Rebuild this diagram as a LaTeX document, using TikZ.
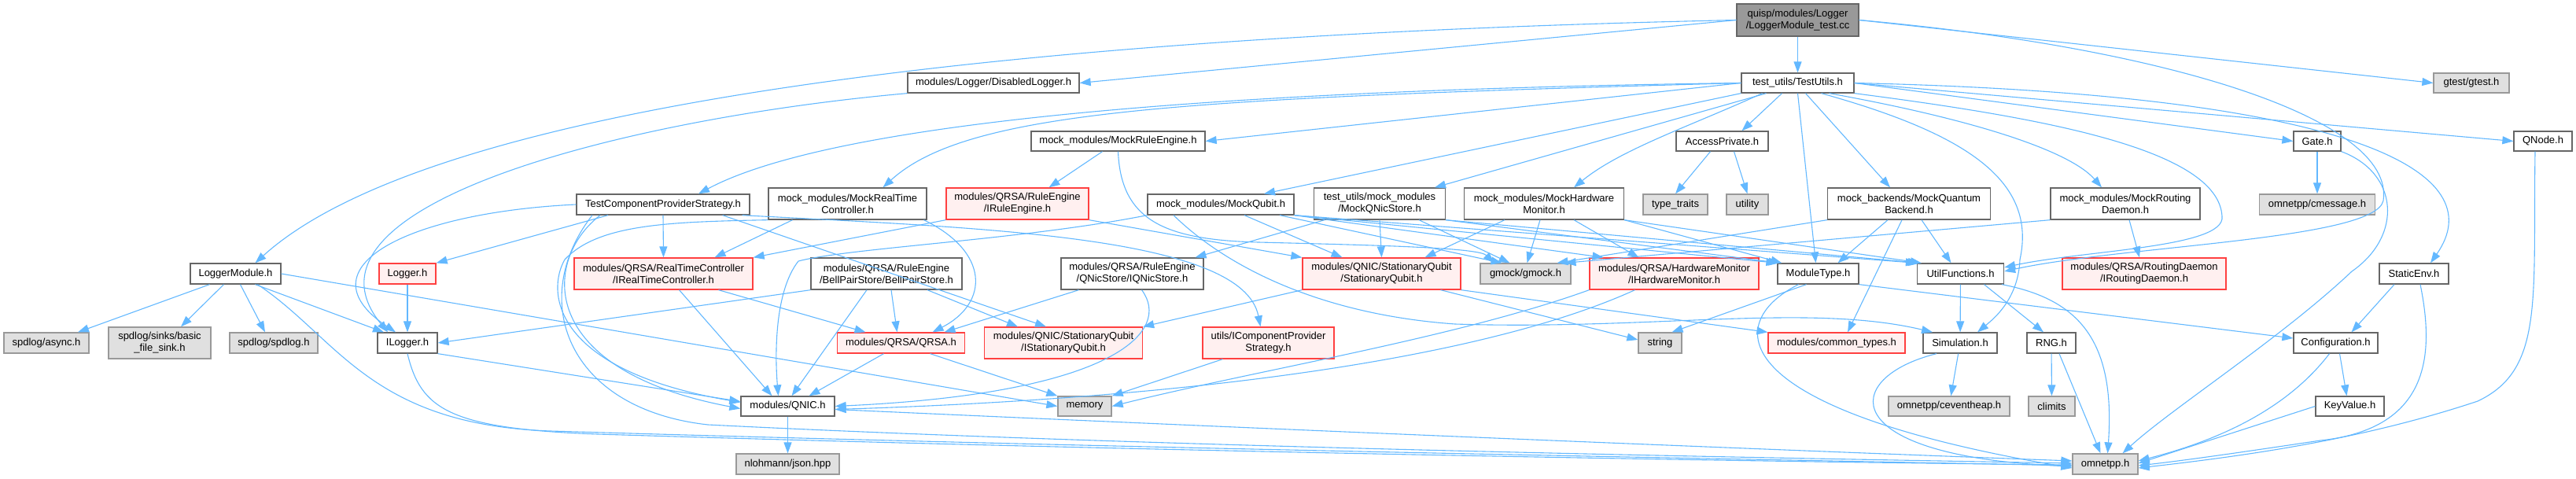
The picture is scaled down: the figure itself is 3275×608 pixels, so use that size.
\documentclass[tikz,border=0pt]{standalone}
\usepackage{fontspec}
\setmainfont{Liberation Sans}
\usetikzlibrary{arrows.meta}
\definecolor{edgec}{HTML}{63B8FF}
\definecolor{bord}{HTML}{666666}
\definecolor{gfill}{HTML}{E0E0E0}
\definecolor{gbord}{HTML}{999999}
\definecolor{rfill}{HTML}{FFF0F0}
\definecolor{rbord}{HTML}{FF4040}
\definecolor{tfill}{HTML}{999999}
\newcommand{\nodefont}{\fontsize{13pt}{15pt}\selectfont}
\tikzset{
  nbox/.style={draw=bord, fill=white, line width=1.3pt, inner sep=0pt, align=center, font=\nodefont, text=black},
  gbox/.style={nbox, draw=gbord, fill=gfill},
  rbox/.style={nbox, draw=rbord, fill=rfill},
  tbox/.style={nbox, draw=bord, fill=tfill},
  dep/.style={draw=edgec, line width=1.1pt, -{Triangle[length=14pt,width=10pt]}}
}
\begin{document}
\begin{tikzpicture}[x=1pt,y=-1pt]
\useasboundingbox (0,0) rectangle (3275,608);
% ---------- nodes ----------
\node[tbox, minimum width=155pt, minimum height=41pt] (top) at (2285.5,25.5) {quisp/modules/Logger\\/LoggerModule\_test.cc};
\node[nbox, minimum width=143pt, minimum height=25pt] (testutils) at (2285.5,105.5) {test\_utils/TestUtils.h};
\node[nbox, minimum width=218pt, minimum height=25pt] (disabled) at (1263,105.5) {modules/Logger/DisabledLogger.h};
\node[gbox, minimum width=96pt, minimum height=25pt] (gtest) at (3142,105.5) {gtest/gtest.h};
\node[nbox, minimum width=221pt, minimum height=25pt] (mockrule) at (1421.5,179.5) {mock\_modules/MockRuleEngine.h};
\node[nbox, minimum width=117pt, minimum height=25pt] (access) at (2189.5,179.5) {AccessPrivate.h};
\node[nbox, minimum width=60pt, minimum height=25pt] (gate) at (2946,179.5) {Gate.h};
\node[nbox, minimum width=74pt, minimum height=25pt] (qnode) at (3233,179.5) {QNode.h};
\node[nbox, minimum width=220pt, minimum height=26pt] (tcps) at (843,260) {TestComponentProviderStrategy.h};
\node[nbox, minimum width=201pt, minimum height=40pt] (mockrtc) at (1077.5,259) {mock\_modules/MockRealTime\\Controller.h};
\node[rbox, minimum width=181pt, minimum height=40pt] (irule) at (1293.5,259) {modules/QRSA/RuleEngine\\/IRuleEngine.h};
\node[nbox, minimum width=186pt, minimum height=26pt] (mockqubit) at (1552,260) {mock\_modules/MockQubit.h};
\node[nbox, minimum width=167pt, minimum height=40pt] (mockqnic) at (1754,259) {test\_utils/mock\_modules\\/MockQNicStore.h};
\node[nbox, minimum width=203pt, minimum height=40pt] (mockhw) at (1963,259) {mock\_modules/MockHardware\\Monitor.h};
\node[gbox, minimum width=82pt, minimum height=26pt] (typetraits) at (2130,260) {type\_traits};
\node[gbox, minimum width=53pt, minimum height=26pt] (utility) at (2221.5,260) {utility};
\node[nbox, minimum width=207pt, minimum height=40pt] (mockqb) at (2427,259) {mock\_backends/MockQuantum\\Backend.h};
\node[nbox, minimum width=190pt, minimum height=40pt] (mockrd) at (2702,259) {mock\_modules/MockRouting\\Daemon.h};
\node[gbox, minimum width=147pt, minimum height=26pt] (cmessage) at (2946,260) {omnetpp/cmessage.h};
\node[nbox, minimum width=115pt, minimum height=26pt] (loggermodule) at (299.5,348) {LoggerModule.h};
\node[rbox, minimum width=72pt, minimum height=26pt] (logger) at (518,348) {Logger.h};
\node[rbox, minimum width=227pt, minimum height=40pt] (irtc) at (843.5,348) {modules/QRSA/RealTimeController\\/IRealTimeController.h};
\node[nbox, minimum width=192pt, minimum height=40pt] (bps) at (1127,348) {modules/QRSA/RuleEngine\\/BellPairStore/BellPairStore.h};
\node[nbox, minimum width=181pt, minimum height=40pt] (iqnicstore) at (1439.5,348) {modules/QRSA/RuleEngine\\/QNicStore/IQNicStore.h};
\node[rbox, minimum width=201pt, minimum height=40pt] (sq) at (1756.5,348) {modules/QNIC/StationaryQubit\\/StationaryQubit.h};
\node[gbox, minimum width=115pt, minimum height=26pt] (gmock) at (1939.5,348) {gmock/gmock.h};
\node[rbox, minimum width=215pt, minimum height=40pt] (ihw) at (2128.5,348) {modules/QRSA/HardwareMonitor\\/IHardwareMonitor.h};
\node[nbox, minimum width=103pt, minimum height=26pt] (moduletype) at (2311.5,348) {ModuleType.h};
\node[nbox, minimum width=110pt, minimum height=26pt] (utilfunc) at (2492.5,348) {UtilFunctions.h};
\node[rbox, minimum width=208pt, minimum height=40pt] (iroute) at (2726,348) {modules/QRSA/RoutingDaemon\\/IRoutingDaemon.h};
\node[nbox, minimum width=88pt, minimum height=26pt] (staticenv) at (3069,348) {StaticEnv.h};
\node[gbox, minimum width=108pt, minimum height=26pt] (spdasync) at (59,436) {spdlog/async.h};
\node[gbox, minimum width=130pt, minimum height=40pt] (spdsink) at (203,436) {spdlog/sinks/basic\\\_file\_sink.h};
\node[gbox, minimum width=112pt, minimum height=26pt] (spdlog) at (348,436) {spdlog/spdlog.h};
\node[nbox, minimum width=76pt, minimum height=26pt] (ilogger) at (518,436) {ILogger.h};
\node[rbox, minimum width=162pt, minimum height=26pt] (qrsa) at (1145.5,436) {modules/QRSA/QRSA.h};
\node[rbox, minimum width=201pt, minimum height=40pt] (isq) at (1352,436) {modules/QNIC/StationaryQubit\\/IStationaryQubit.h};
\node[rbox, minimum width=167pt, minimum height=40pt] (icps) at (1612.5,436) {utils/IComponentProvider\\Strategy.h};
\node[gbox, minimum width=55pt, minimum height=26pt] (string) at (2110.5,436) {string};
\node[rbox, minimum width=174pt, minimum height=26pt] (commontypes) at (2335,436) {modules/common\_types.h};
\node[nbox, minimum width=94pt, minimum height=26pt] (simulation) at (2492,436) {Simulation.h};
\node[nbox, minimum width=62pt, minimum height=26pt] (rng) at (2608,436) {RNG.h};
\node[nbox, minimum width=107pt, minimum height=26pt] (config) at (2969.5,436) {Configuration.h};
\node[nbox, minimum width=119pt, minimum height=25pt] (qnic) at (1001.5,516.5) {modules/QNIC.h};
\node[gbox, minimum width=68pt, minimum height=25pt] (memory) at (1379,516.5) {memory};
\node[gbox, minimum width=154pt, minimum height=25pt] (ceventheap) at (2478,516.5) {omnetpp/ceventheap.h};
\node[gbox, minimum width=59pt, minimum height=25pt] (climits) at (2608.5,516.5) {climits};
\node[nbox, minimum width=87pt, minimum height=25pt] (keyvalue) at (2987.5,516.5) {KeyValue.h};
\node[gbox, minimum width=131pt, minimum height=26pt] (json) at (1001.5,590) {nlohmann/json.hpp};
\node[gbox, minimum width=83pt, minimum height=26pt] (omnetpp) at (2676.5,590) {omnetpp.h};
% ---------- edges ----------
% top
\draw[dep] (top) -- (testutils);
\draw[dep] (top.east) -- (gtest.west);
\draw[dep] (top.west) -- (disabled.east);
\draw[dep] (top.west) .. controls (1300,45) and (550,130) .. ([xshift=25pt]loggermodule.north);
\draw[dep] (top.east) .. controls (2750,60) and (3045,150) .. (3030,255) .. controls (3020,305) and (2700,312) .. ([yshift=3pt]utilfunc.east);
% testutils
\draw[dep] (testutils.west) -- (mockrule.east);
\draw[dep] (testutils.west) .. controls (1500,115) and (1050,160) .. ([xshift=45pt]tcps.north);
\draw[dep] (testutils.west) .. controls (1500,125) and (1230,140) .. ([xshift=45pt]mockrtc.north);
\draw[dep] (testutils.south west) -- ([xshift=55pt]mockqubit.north);
\draw[dep] ([xshift=-40pt]testutils.south) -- ([xshift=70pt]mockqnic.north);
\draw[dep] ([xshift=-45pt]testutils.south) .. controls (2150,160) and (2060,190) .. ([xshift=38pt]mockhw.north);
\draw[dep] ([xshift=-20pt]testutils.south) -- ([xshift=25pt]access.north);
\draw[dep] ([xshift=10pt]testutils.south) -- ([xshift=-24pt]mockqb.north);
\draw[dep] (testutils.south) -- ([xshift=-3pt]moduletype.north);
\draw[dep] ([xshift=40pt]testutils.south) .. controls (2500,150) and (2630,190) .. ([xshift=-30pt]mockrd.north);
\draw[dep] (testutils.east) -- (gate.west);
\draw[dep] (testutils.east) -- (qnode.west);
\draw[dep] (testutils.east) .. controls (3000,120) and (3170,220) .. ([xshift=21pt]staticenv.north);
\draw[dep] (testutils.south east) .. controls (2600,150) and (2820,190) .. (2825,275) .. controls (2830,315) and (2650,318) .. ([yshift=8pt]utilfunc.east);
\draw[dep] ([xshift=30pt]testutils.south) .. controls (2500,170) and (2590,230) .. (2568,330) .. controls (2566,380) and (2535,405) .. ([xshift=22pt]simulation.north);
% disabled
\draw[dep] (disabled.south west) .. controls (800,150) and (360,260) .. ([xshift=-25pt]ilogger.north);
% loggermodule
\draw[dep] ([xshift=-33pt]loggermodule.south) -- ([xshift=40pt]spdasync.north);
\draw[dep] ([xshift=-15pt]loggermodule.south) -- ([xshift=27pt]spdsink.north);
\draw[dep] ([xshift=6pt]loggermodule.south) -- ([xshift=-11pt]spdlog.north);
\draw[dep] ([xshift=25pt]loggermodule.south) -- ([xshift=-30pt]ilogger.north);
\draw[dep] (loggermodule.east) -- (memory.west);
\draw[dep] ([xshift=28pt]loggermodule.south) .. controls (430,430) and (470,540) .. (700,548) .. controls (1500,572) and (2300,585) .. ([yshift=-2pt]omnetpp.west);
% logger
\draw[dep] (logger) -- (ilogger);
% tcps
\draw[dep] ([xshift=-70pt]tcps.south) -- (logger.north east);
\draw[dep] (tcps.south) -- (irtc.north);
\draw[dep] (tcps.west) .. controls (520,270) and (380,340) .. ([xshift=-15pt]ilogger.north);
\draw[dep] ([xshift=-80pt]tcps.south) .. controls (690,330) and (680,470) .. ([yshift=-3pt]qnic.west);
\draw[dep] ([xshift=-35pt]tcps.south east) -- ([xshift=-22pt]isq.north);
\draw[dep] ([xshift=-10pt]tcps.south east) .. controls (1250,290) and (1580,300) .. ([xshift=-10pt]icps.north);
\draw[dep] ([xshift=-90pt]tcps.south) .. controls (670,380) and (720,520) .. (900,540) .. controls (1500,570) and (2300,583) .. ([yshift=1pt]omnetpp.west);
% mockrtc
\draw[dep] ([xshift=-70pt]mockrtc.south) -- ([xshift=65pt]irtc.north);
\draw[dep] ([xshift=97pt]mockrtc.south) .. controls (1258,320) and (1258,385) .. ([xshift=40pt]qrsa.north);
\draw[dep] (mockrtc.south west) .. controls (850,282) and (760,285) .. (718,330) .. controls (695,370) and (700,470) .. ([yshift=5pt]qnic.west);
% irule
\draw[dep] (irule.south west) -- (irtc.north east);
\draw[dep] (irule.south east) -- (sq.north west);
% mockrule
\draw[dep] ([xshift=-20pt]mockrule.south) -- ([xshift=40pt]irule.north);
\draw[dep] (mockrule.south) .. controls (1425,280) and (1480,305) .. (1600,308) .. controls (1760,312) and (1880,315) .. ([xshift=-40pt]gmock.north);
% mockqubit
\draw[dep] ([xshift=30pt]mockqubit.south) -- ([xshift=-50pt]sq.north);
\draw[dep] ([xshift=75pt]mockqubit.south) -- ([xshift=-30pt]gmock.north);
\draw[dep] (mockqubit.south east) -- (moduletype.north west);
\draw[dep] (mockqubit.south east) -- (utilfunc.north west);
\draw[dep] (mockqubit.south east) -- ([xshift=-90pt]ihw.north);
\draw[dep] (mockqubit.south west) .. controls (1300,305) and (1080,315) .. (1015,332) .. controls (985,370) and (985,450) .. ([xshift=-12pt]qnic.north);
\draw[dep] ([xshift=-60pt]mockqubit.south) .. controls (1560,340) and (1680,400) .. (1850,412) .. controls (2100,420) and (2300,385) .. ([xshift=-35pt]simulation.north);
% mockqnic
\draw[dep] ([xshift=-70pt]mockqnic.south) -- ([xshift=80pt]iqnicstore.north);
\draw[dep] (mockqnic.south) -- (sq.north);
\draw[dep] ([xshift=50pt]mockqnic.south) -- ([xshift=-20pt]gmock.north);
\draw[dep] (mockqnic.south east) -- ([xshift=3pt]moduletype.north west);
\draw[dep] (mockqnic.south east) -- ([xshift=3pt]utilfunc.north west);
% mockhw
\draw[dep] ([xshift=-50pt]mockhw.south) -- ([xshift=55pt]sq.north);
\draw[dep] ([xshift=-5pt]mockhw.south) -- ([xshift=2pt]gmock.north);
\draw[dep] ([xshift=38pt]mockhw.south) -- ([xshift=-45pt]ihw.north);
\draw[dep] (mockhw.south east) -- ([xshift=6pt]moduletype.north west);
\draw[dep] (mockhw.south east) -- ([xshift=6pt]utilfunc.north west);
% access
\draw[dep] ([xshift=-15pt]access.south) -- (typetraits.north);
\draw[dep] ([xshift=15pt]access.south) -- (utility.north);
% mockqb
\draw[dep] ([xshift=-27pt]mockqb.south) -- ([xshift=25pt]moduletype.north);
\draw[dep] ([xshift=16pt]mockqb.south) -- ([xshift=-12pt]utilfunc.north);
\draw[dep] ([xshift=-9pt]mockqb.south) -- ([xshift=14pt]commontypes.north);
\draw[dep] (mockqb.south west) -- ([xshift=40pt]gmock.north);
% mockrd
\draw[dep] ([xshift=5pt]mockrd.south) -- ([xshift=-6pt]iroute.north);
\draw[dep] (mockrd.south west) -- ([xshift=50pt]gmock.north);
% gate
\draw[dep] (gate) -- (cmessage);
\draw[dep] (gate.south east) .. controls (3050,220) and (3055,300) .. (2990,345) .. controls (2900,430) and (2760,520) .. ([xshift=22pt]omnetpp.north);
% qnode
\draw[dep] ([xshift=-10pt]qnode.south) .. controls (3220,380) and (3235,470) .. (3150,510) .. controls (3000,560) and (2850,580) .. ([yshift=-5pt]omnetpp.east);
% staticenv
\draw[dep] ([xshift=-25pt]staticenv.south) -- ([xshift=20pt]config.north);
\draw[dep] ([xshift=8pt]staticenv.south) .. controls (3095,450) and (3090,545) .. (2950,560) .. controls (2850,575) and (2780,585) .. ([yshift=-2pt]omnetpp.east);
% config / keyvalue
\draw[dep] ([xshift=5pt]config.south) -- ([xshift=-4pt]keyvalue.north);
\draw[dep] ([xshift=-8pt]config.south) .. controls (2900,530) and (2800,565) .. ([yshift=4pt]omnetpp.east);
\draw[dep] (keyvalue.west) -- ([yshift=1pt]omnetpp.east);
% bps
\draw[dep] (bps.south west) -- (ilogger.east);
\draw[dep] ([xshift=-25pt]bps.south) -- ([xshift=5pt]qnic.north);
\draw[dep] ([xshift=6pt]bps.south) -- ([xshift=-5pt]qrsa.north);
\draw[dep] ([xshift=52pt]bps.south) -- ([xshift=-58pt]isq.north);
% iqnicstore
\draw[dep] ([xshift=-68pt]iqnicstore.south) -- ([xshift=55pt]qrsa.north);
\draw[dep] ([xshift=12pt]iqnicstore.south) .. controls (1490,420) and (1420,500) .. (qnic.east);
% irtc
\draw[dep] ([xshift=20pt]irtc.south) -- ([xshift=-20pt]qnic.north);
\draw[dep] ([xshift=70pt]irtc.south) -- ([xshift=-45pt]qrsa.north);
% sq
\draw[dep] (sq.south west) -- (isq.north east);
\draw[dep] ([xshift=75pt]sq.south) -- ([yshift=4pt]string.west);
\draw[dep] (sq.south east) -- (commontypes.north west);
% ihw
\draw[dep] (ihw.south west) .. controls (1850,430) and (1600,470) .. (memory.east);
\draw[dep] ([xshift=-50pt]ihw.south) .. controls (1900,450) and (1550,505) .. ([yshift=-4pt]qnic.east);
% icps
\draw[dep] ([xshift=-58pt]icps.south) -- (memory.north east);
% moduletype
\draw[dep] ([xshift=-15pt]moduletype.south) -- ([xshift=15pt]string.north);
\draw[dep] ([xshift=-25pt]moduletype.south) .. controls (2190,410) and (2190,520) .. ([yshift=-5pt]omnetpp.west);
\draw[dep] (moduletype.south east) -- ([yshift=6pt]config.west);
% utilfunc
\draw[dep] (utilfunc) -- (simulation);
\draw[dep] ([xshift=30pt]utilfunc.south) -- ([xshift=-10pt]rng.north);
\draw[dep] ([xshift=-3pt]utilfunc.south east) .. controls (2640,380) and (2690,430) .. ([xshift=3pt]omnetpp.north);
% rng
\draw[dep] (rng) -- (climits);
\draw[dep] ([xshift=10pt]rng.south) -- ([xshift=-6pt]omnetpp.north);
% simulation
\draw[dep] (simulation) -- (ceventheap);
\draw[dep] ([xshift=-30pt]simulation.south) .. controls (2340,480) and (2330,580) .. ([yshift=-3pt]omnetpp.west);
% ilogger
\draw[dep] (ilogger.south east) -- ([yshift=6pt]qnic.west);
\draw[dep] (ilogger.south) .. controls (535,520) and (570,545) .. (760,552) .. controls (1500,575) and (2300,588) .. ([yshift=-1pt]omnetpp.west);
% qrsa
\draw[dep] ([xshift=-22pt]qrsa.south) -- ([xshift=27pt]qnic.north);
\draw[dep] ([xshift=37pt]qrsa.south) -- (memory.north west);
% qnic
\draw[dep] (qnic) -- (json);
\draw[dep] ([yshift=-4pt]qnic.east) .. controls (1600,545) and (2200,570) .. ([yshift=4pt]omnetpp.west);
\end{tikzpicture}
\end{document}
